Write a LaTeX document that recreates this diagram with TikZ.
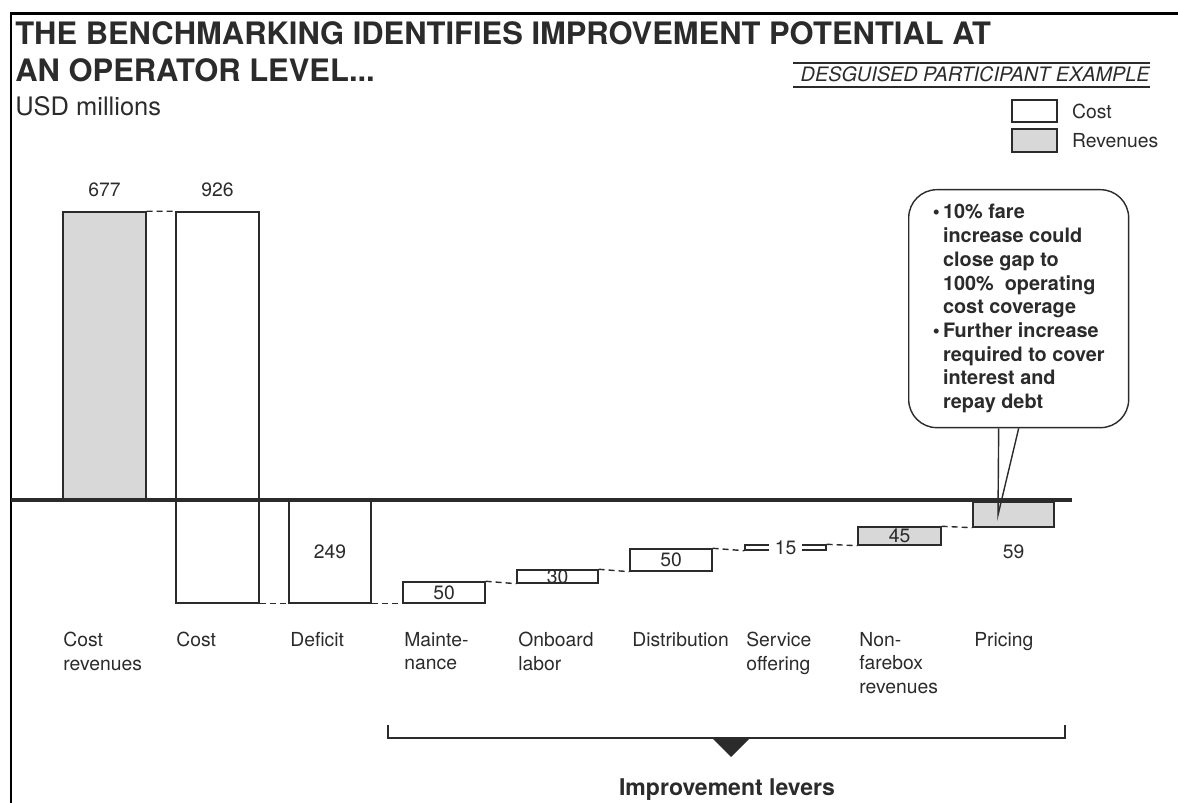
\documentclass[tikz,border=0pt]{standalone}
\usepackage{fontspec}
\setmainfont{TeX Gyre Heros}
\usetikzlibrary{fit,positioning}

\definecolor{ink}{HTML}{2B2B2B}
\definecolor{revfill}{HTML}{D8D8D8}

\newcommand{\bulletgap}{\hphantom{\textbullet\,}}

\tikzset{
  costbar/.style={draw=ink, fill=white, inner sep=0pt, line width=0.8pt},
  revbar/.style={costbar, fill=revfill},
  link/.style={draw=ink, line width=0.8pt, dash pattern=on 3.4pt off 2.3pt},
  value/.style={font=\fontsize{11}{13}\selectfont, text=ink},
  catlabel/.style={anchor=north west, align=left, inner sep=0pt,
    font=\fontsize{11}{13.4}\selectfont, text=ink},
  keytext/.style={value, inner sep=0pt},
}

\begin{document}
\begin{tikzpicture}[x=0.02cm, y=-0.02cm]
  \useasboundingbox (0,0) rectangle (1178,803);

  % frame
  \draw[line width=1.7pt] (11,803) -- (11,14) -- (1178,14);

  % heading
  \node[anchor=base west, inner sep=0pt, text=ink,
    font=\fontsize{17.6}{20}\selectfont\bfseries] (title1) at (15,45)
    {THE BENCHMARKING IDENTIFIES IMPROVEMENT POTENTIAL AT};
  \node[anchor=base west, inner sep=0pt, text=ink,
    font=\fontsize{17.6}{20}\selectfont\bfseries] (title2) at (15,82)
    {AN OPERATOR LEVEL...};
  \node[anchor=base west, inner sep=0pt, text=ink,
    font=\fontsize{14.5}{17}\selectfont] (unit) at (15,116) {USD millions};

  \node[anchor=base east, inner sep=0pt, text=ink,
    font=\fontsize{11.3}{13}\selectfont\itshape] (disguise) at (1150,82)
    {DESGUISED PARTICIPANT EXAMPLE};
  \draw[ink, line width=0.8pt] (793,63) -- (1150,63);
  \draw[ink, line width=0.8pt] (793,87) -- (1150,87);

  % legend
  \node[costbar, fit={(1012,100) (1057,122)}] (keycost) {};
  \node[keytext, right=8pt of keycost] (keycostlbl) {Cost};
  \node[revbar, fit={(1012,129) (1057,152)}] (keyrev) {};
  \node[keytext, right=8pt of keyrev] (keyrevlbl) {Revenues};

  % bars
  \node[revbar, fit={(63,212) (146,500)},
    label={[value, label distance=5pt]above:677}] (crev) {};
  \node[costbar, fit={(176,212) (259,603)},
    label={[value, label distance=5pt]above:926}] (cost) {};
  \node[costbar, fit={(289,500) (371,603)},
    label={[value]center:249}] (deficit) {};
  \node[costbar, fit={(403,582) (485,603)},
    label={[value]center:50}] (maint) {};
  \node[costbar, fit={(517,570) (598,583)},
    label={[value]center:30}] (onboard) {};
  \node[costbar, fit={(630,549) (712,571)},
    label={[value]center:50}] (distrib) {};
  \node[costbar, fit={(745,545) (826,550)},
    label={[value, fill=white, inner xsep=3pt, inner ysep=1pt]center:15}] (service) {};
  \node[revbar, fit={(858,527) (941,545)},
    label={[value]center:45}] (nonfare) {};
  \node[revbar, fit={(973,502) (1054,527)},
    label={[value, label distance=6pt]below:59}] (pricing) {};

  % axis
  \draw[ink, line width=2.3pt] (11,500) -- (1072,500);

  % waterfall links
  \draw[link] (crev.north east) -- (cost.north west);
  \draw[link] (cost.south east) -- (deficit.south west);
  \draw[link] (deficit.south east) -- (maint.south west);
  \draw[link] (maint.north east) -- (onboard.south west);
  \draw[link] (onboard.north east) -- (distrib.south west);
  \draw[link] (distrib.north east) -- (service.south west);
  \draw[link] (service.north east) -- (nonfare.south west);
  \draw[link] (nonfare.north east) -- (pricing.south west);

  % category labels
  \node[catlabel] (lcrev) at (63,632) {Cost\\revenues};
  \node[catlabel] (lcost) at (176,632) {Cost};
  \node[catlabel] (ldeficit) at (290,632) {Deficit};
  \node[catlabel] (lmaint) at (404,632) {Mainte-\\nance};
  \node[catlabel] (lonboard) at (518,632) {Onboard\\labor};
  \node[catlabel] (ldistrib) at (632,632) {Distribution};
  \node[catlabel] (lservice) at (746,632) {Service\\offering};
  \node[catlabel] (lnonfare) at (859,632) {Non-\\farebox\\revenues};
  \node[catlabel] (lpricing) at (974,632) {Pricing};

  % callout
  \node[draw=ink, line width=0.8pt, fill=white, rounded corners=16pt,
    anchor=north west, minimum width=4.4cm, minimum height=4.76cm,
    align=left, text=ink, font=\fontsize{11.3}{13.5}\selectfont\bfseries]
    (note) at (908,189)
    {\textbullet\,10\% fare\\
     \bulletgap increase could\\
     \bulletgap close gap to\\
     \bulletgap 100\%~ operating\\
     \bulletgap cost coverage\\
     \textbullet\,Further increase\\
     \bulletgap required to cover\\
     \bulletgap interest and\\
     \bulletgap repay debt};
  \coordinate (tip) at (998,515);
  \draw[ink, line width=0.8pt] ([xshift=-0.4cm]note.south) -- (tip) -- (note.south);

  % improvement levers bracket
  \draw[ink, line width=0.8pt] (388,725) |- (1065,738) -- (1065,725);
  \fill[ink] (712,738) -- (750,738) -- (731,757) -- cycle;
  \node[text=ink, font=\fontsize{13.1}{15}\selectfont\bfseries] (levers) at (727,790)
    {Improvement levers};

\end{tikzpicture}
\end{document}
